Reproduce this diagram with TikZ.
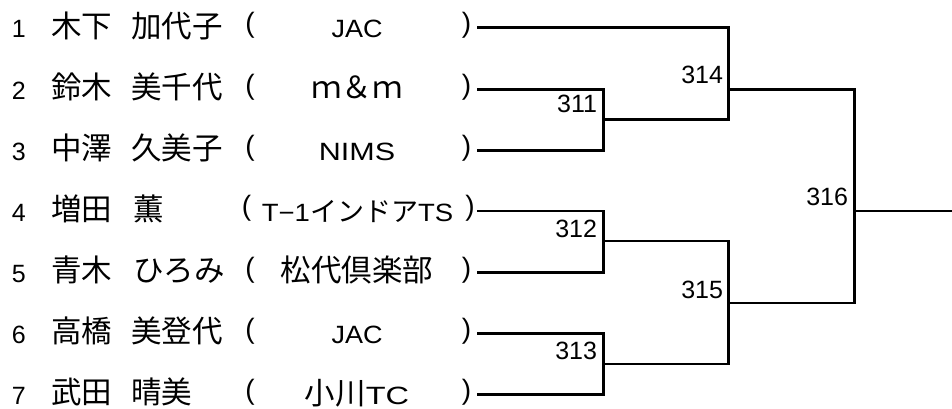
\documentclass[tikz,border=0pt]{standalone}
\usepackage{fontspec}
\setmainfont{Liberation Sans}
\newfontfamily\jp{Noto Sans CJK JP}
\newcommand{\jpt}{\jp\fontsize{30.5}{32}\selectfont}
\newcommand{\jps}{\jp\fontsize{27}{30}\selectfont}
\newcommand{\lt}{\fontsize{25}{28}\selectfont}
\newcommand{\wide}[2]{\scalebox{#1}[1]{#2}}
\begin{document}
\begin{tikzpicture}[x=1pt,y=-1pt,
  txt/.style={inner sep=0pt, outer sep=0pt},
  num/.style={txt, anchor=base west, font=\lt},
  jname/.style={txt, anchor=base west, font=\jpt},
  par/.style={txt, anchor=center, font=\fontsize{28}{30}\selectfont},
  club/.style={txt, anchor=base, font=\lt},
  mlabel/.style={txt, anchor=base east, font=\lt},
  bracket/.style={line width=2.6pt, line join=miter, line cap=rect, black}]
\useasboundingbox (0,0) rectangle (952,408);

% row y positions: 27.7, 89.3, 150.3, 211, 272.3, 333.3, 394.3
% ---- row 1
\node[num]   (n1) at (12,37.7) {1};
\node[jname] (f1) at (51,37.2) {木下};
\node[jname] (g1) at (131,37.2) {加代子};
\node[par]   (o1) at (250,25.2) {(};
\node[club]  (c1) at (357,37.7) {\wide{1.08}{JAC}};
\node[par]   (p1) at (466.5,25.2) {)};
% ---- row 2
\node[num]   (n2) at (12,99.3) {2};
\node[jname] (f2) at (51,98.8) {鈴木};
\node[jname] (g2) at (131,98.8) {美千代};
\node[par]   (o2) at (250,86.8) {(};
\node[club,font=\jpt] (c2) at (357,98.8) {ｍ＆ｍ};
\node[par]   (p2) at (466.5,86.8) {)};
% ---- row 3
\node[num]   (n3) at (12,160.3) {3};
\node[jname] (f3) at (51,159.8) {中澤};
\node[jname] (g3) at (131,159.8) {久美子};
\node[par]   (o3) at (250,147.8) {(};
\node[club]  (c3) at (357,160.3) {\wide{1.22}{NIMS}};
\node[par]   (p3) at (466.5,147.8) {)};
% ---- row 4
\node[num]   (n4) at (12,221) {4};
\node[jname] (f4) at (51,220.5) {増田};
\node[jname] (g4) at (133,220.5) {薫};
\node[par]   (o4) at (246.5,208.5) {(};
\node[club]  (c4) at (357.5,221) {\wide{1.1}{T−1}{\jps インドア}\wide{1.1}{TS}};
\node[par]   (p4) at (470,208.5) {)};
% ---- row 5
\node[num]   (n5) at (12,282.3) {5};
\node[jname] (f5) at (51,281.8) {青木};
\node[jname] (g5) at (133,281.8) {ひろみ};
\node[par]   (o5) at (250,269.8) {(};
\node[club,font=\jpt] (c5) at (357,281.8) {松代倶楽部};
\node[par]   (p5) at (466.5,269.8) {)};
% ---- row 6
\node[num]   (n6) at (12,343.3) {6};
\node[jname] (f6) at (51,342.8) {高橋};
\node[jname] (g6) at (131,342.8) {美登代};
\node[par]   (o6) at (250,330.8) {(};
\node[club]  (c6) at (357,343.3) {\wide{1.08}{JAC}};
\node[par]   (p6) at (466.5,330.8) {)};
% ---- row 7
\node[num]   (n7) at (12,404.3) {7};
\node[jname] (f7) at (51,403.8) {武田};
\node[jname] (g7) at (131,403.8) {晴美};
\node[par]   (o7) at (250,391.8) {(};
\node[club]  (c7) at (357,404.3) {{\jpt 小川}\wide{1.3}{TC}};
\node[par]   (p7) at (466.5,391.8) {)};

% line start points
\coordinate (s1) at (478,27.7);
\coordinate (s2) at (478,89.3);
\coordinate (s3) at (478,150.3);
\coordinate (s4) at (478,211);
\coordinate (s5) at (478,272.3);
\coordinate (s6) at (478,333.3);
\coordinate (s7) at (478,394.3);
% match points
\coordinate (m311) at (603.7,119.5);
\coordinate (m312) at (603.7,241);
\coordinate (m313) at (603.7,364);
\coordinate (m314) at (728.7,89.3);
\coordinate (m315) at (728.7,303);
\coordinate (m316) at (854.3,211);
\coordinate (fin)  at (952,211);

\draw[bracket] (s2) -| (m311) |- (s3);
\draw[bracket] (s4) -| (m312) |- (s5);
\draw[bracket] (s6) -| (m313) |- (s7);
\draw[bracket] (s1) -| (m314) |- (m311);
\draw[bracket] (m312) -| (m315) |- (m313);
\draw[bracket] (m314) -| (m316) |- (m315);
\draw[bracket] (m316) -- (fin);

% match labels
\node[mlabel] (l311) at (597,112.5) {311};
\node[mlabel] (l312) at (597,237) {312};
\node[mlabel] (l313) at (597,359.5) {313};
\node[mlabel] (l314) at (723,83) {314};
\node[mlabel] (l315) at (723,298) {315};
\node[mlabel] (l316) at (848,205) {316};
\end{tikzpicture}
\end{document}
